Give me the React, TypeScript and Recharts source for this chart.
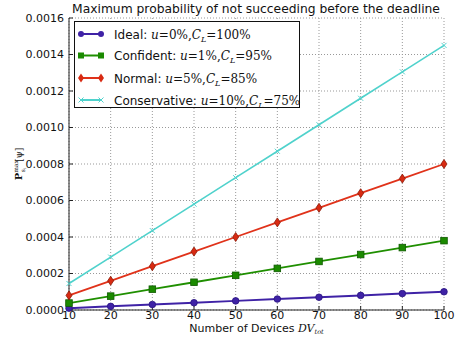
import React from 'react';
import { LineChart, Line, XAxis, YAxis, CartesianGrid } from 'recharts';

// ─── Data ─────────────────────────────────────────────────────────────────────

const DEVICES      = [10, 20, 30, 40, 50, 60, 70, 80, 90, 100];
const IDEAL        = [0.00001, 0.00002, 0.00003, 0.00004, 0.00005, 0.00006, 0.00007, 0.00008, 0.00009, 0.0001];
const CONFIDENT    = [0.000038, 0.000076, 0.000114, 0.000152, 0.00019, 0.000228, 0.000266, 0.000304, 0.000342, 0.00038];
const NORMAL       = [0.00008, 0.00016, 0.00024, 0.00032, 0.0004, 0.00048, 0.00056, 0.00064, 0.00072, 0.0008];
const CONSERVATIVE = [0.000145, 0.00029, 0.000435, 0.00058, 0.000725, 0.00087, 0.001015, 0.00116, 0.001305, 0.00145];

const X_TICKS = [10, 20, 30, 40, 50, 60, 70, 80, 90, 100];
const Y_TICKS = [0, 0.0002, 0.0004, 0.0006, 0.0008, 0.001, 0.0012, 0.0014, 0.0016];

const data = DEVICES.map((d, i) => ({
  d,
  ideal: IDEAL[i],
  confident: CONFIDENT[i],
  normal: NORMAL[i],
  conservative: CONSERVATIVE[i],
}));

// ─── Style ────────────────────────────────────────────────────────────────────

const FONT    = '"DejaVu Sans", sans-serif';
const MATH    = '"DejaVu Serif", serif';
const PURPLE  = '#3f22a6';
const GREEN   = '#1f8f00';
const RED     = '#e0321a';
const CYAN    = '#4fd2cc';
const FRAME   = '#222';

// ─── Markers ──────────────────────────────────────────────────────────────────

const Circle = (p: any) => (
  <circle cx={p.cx} cy={p.cy} r={3.3} fill={PURPLE} stroke="#2a1480" strokeWidth={0.8} />
);
const Square = (p: any) => (
  <rect x={p.cx - 3.3} y={p.cy - 3.3} width={6.6} height={6.6} fill="#1b8a00" stroke="#0f5a00" strokeWidth={0.8} />
);
const Diamond = (p: any) => (
  <path d={`M${p.cx},${p.cy - 4.5} L${p.cx + 3},${p.cy} L${p.cx},${p.cy + 4.5} L${p.cx - 3},${p.cy} Z`} fill="#d82a12" stroke="#8a1a08" strokeWidth={0.8} />
);
const Cross = (p: any) => (
  <path d={`M${p.cx - 2.5},${p.cy - 2.5} L${p.cx + 2.5},${p.cy + 2.5} M${p.cx - 2.5},${p.cy + 2.5} L${p.cx + 2.5},${p.cy - 2.5}`} stroke={CYAN} strokeWidth={1} />
);

// ─── Legend (svg overlay) ─────────────────────────────────────────────────────

const LEGEND_ROWS = [
  { name: 'Ideal:', u: '0', c: '100', color: PURPLE, mark: 'circle' },
  { name: 'Confident:', u: '1', c: '95', color: GREEN, mark: 'square' },
  { name: 'Normal:', u: '5', c: '85', color: RED, mark: 'diamond' },
  { name: 'Conservative:', u: '10', c: '75', color: CYAN, mark: 'cross' },
];
const ROW_Y = [13, 34.5, 57, 79];

function LegendMark({ color, mark, y }: { color: string; mark: string; y: number }) {
  return (
    <g>
      <line x1={6} y1={y} x2={28} y2={y} stroke={color} strokeWidth={2} />
      {[7, 27].map((x) =>
        mark === 'circle' ? <circle key={x} cx={x} cy={y} r={3} fill={color} /> :
        mark === 'square' ? <rect key={x} x={x - 3} y={y - 3} width={6} height={6} fill="#1b8a00" /> :
        mark === 'diamond' ? <path key={x} d={`M${x},${y - 4.5} L${x + 3},${y} L${x},${y + 4.5} L${x - 3},${y} Z`} fill="#d82a12" /> :
        <path key={x} d={`M${x - 2.5},${y - 2.5} L${x + 2.5},${y + 2.5} M${x - 2.5},${y + 2.5} L${x + 2.5},${y - 2.5}`} stroke={color} strokeWidth={1} />
      )}
    </g>
  );
}

function LegendBox() {
  return (
    <svg width={227} height={88} style={{ position: 'absolute', left: 74, top: 21, zIndex: 5 }}>
      <rect x={0.5} y={0.5} width={225} height={86} fill="#fff" stroke="#111" strokeWidth={1} />
      {LEGEND_ROWS.map((r, i) => (
        <g key={r.name}>
          <LegendMark color={r.color} mark={r.mark} y={ROW_Y[i]} />
          <text x={40} y={ROW_Y[i] + 4.5} fontFamily={FONT} fontSize={12} fill="#111">
            {r.name + ' '}
            <tspan fontFamily={MATH} fontStyle="italic">u</tspan>
            <tspan fontFamily={MATH}>{`=${r.u}%,`}</tspan>
            <tspan fontFamily={MATH} fontStyle="italic">C</tspan>
            <tspan fontFamily={MATH} fontStyle="italic" fontSize={8} dy={3}>L</tspan>
            <tspan fontFamily={MATH} dy={-3}>{`=${r.c}%`}</tspan>
          </text>
        </g>
      ))}
    </svg>
  );
}

// ─── Axis labels ──────────────────────────────────────────────────────────────

const XLabel = ({ viewBox }: any) => (
  <text x={viewBox.x + viewBox.width / 2} y={332} textAnchor="middle" fontFamily={FONT} fontSize={11} fill="#111">
    Number of Devices{' '}
    <tspan fontFamily={MATH} fontStyle="italic">DV</tspan>
    <tspan fontFamily={MATH} fontStyle="italic" fontSize={6.5} dy={1.5}>tot</tspan>
  </text>
);

const YLabel = ({ viewBox }: any) => {
  const cx = 22;
  const cy = viewBox.y + viewBox.height / 2;
  return (
    <text transform={`translate(${cx},${cy}) rotate(-90)`} textAnchor="middle" fontFamily={MATH} fontSize={10} fill="#111">
      <tspan fontWeight="bold">P</tspan>
      <tspan fontSize={6} dy={-4}>max</tspan>
      <tspan fontSize={6} dy={7} dx={-12}>s</tspan>
      <tspan fontSize={4} dy={1}>i</tspan>
      <tspan fontSize={9} dy={-4} dx={6}>[ψ]</tspan>
    </text>
  );
};

// ─── Chart ────────────────────────────────────────────────────────────────────

export default function App() {
  const tickStyle = { fill: '#111', fontSize: 11, fontFamily: FONT };
  return (
    <div style={{ position: 'absolute', left: 0, top: 0, width: 455, height: 338, background: '#fff' }}>
      <div style={{
        position: 'absolute', left: 56, width: 400, top: 2, textAlign: 'center',
        fontFamily: FONT, fontSize: 12.3, color: '#111', whiteSpace: 'nowrap',
      }}>
        Maximum probability of not succeeding before the deadline
      </div>
      <LineChart width={455} height={338} data={data} margin={{ top: 18, right: 11, bottom: 0, left: 17 }}>
        <CartesianGrid stroke="#999" strokeDasharray="1 2" />
        <XAxis
          dataKey="d" type="number" domain={[10, 100]} ticks={X_TICKS}
          height={28} tick={tickStyle} tickSize={-4} tickMargin={5}
          stroke={FRAME} interval={0} label={<XLabel />}
        />
        <XAxis
          xAxisId="top" orientation="top" dataKey="d" type="number" domain={[10, 100]} ticks={X_TICKS}
          height={0} tick={() => <g />} tickSize={-4} stroke={FRAME}
        />
        <YAxis
          type="number" domain={[0, 0.0016]} ticks={Y_TICKS} width={52}
          tick={tickStyle} tickSize={-4} tickMargin={9} stroke={FRAME}
          tickFormatter={(v: number) => v.toFixed(4)} interval={0} label={<YLabel />}
        />
        <YAxis
          yAxisId="right" orientation="right" type="number" domain={[0, 0.0016]} ticks={Y_TICKS}
          width={0} tick={() => <g />} tickSize={-4} stroke={FRAME}
        />
        <Line dataKey="ideal" stroke={PURPLE} strokeWidth={2} dot={<Circle />} isAnimationActive={false} />
        <Line dataKey="confident" stroke={GREEN} strokeWidth={1.8} dot={<Square />} isAnimationActive={false} />
        <Line dataKey="normal" stroke={RED} strokeWidth={1.8} dot={<Diamond />} isAnimationActive={false} />
        <Line dataKey="conservative" stroke={CYAN} strokeWidth={1.6} dot={<Cross />} isAnimationActive={false} />
      </LineChart>
      <LegendBox />
    </div>
  );
}
